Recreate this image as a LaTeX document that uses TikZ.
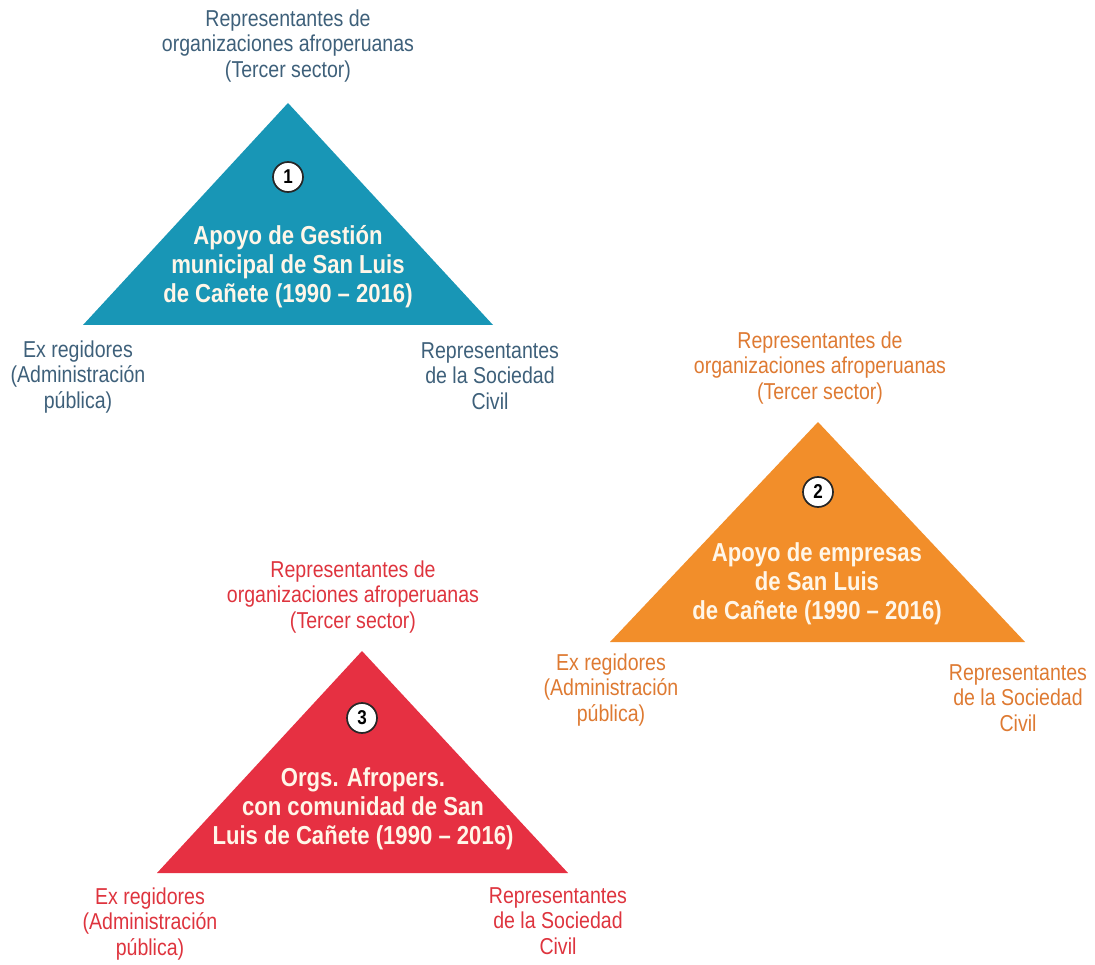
\documentclass[tikz,border=0pt]{standalone}
\usepackage{fontspec}
\usepackage{xcolor}
\usepackage{tikz}
\usetikzlibrary{positioning, calc}
\newfontfamily\narrowfont[FakeStretch=0.85]{Liberation Sans}
\definecolor{AfroBlue}{RGB}{24, 150, 182}
\definecolor{AfroBlueText}{RGB}{62, 96, 122}
\definecolor{AfroOrange}{RGB}{242, 142, 42}
\definecolor{AfroOrangeText}{RGB}{222, 122, 50}
\definecolor{AfroRed}{RGB}{230, 48, 66}
\definecolor{AfroRedText}{RGB}{222, 52, 62}
\definecolor{AfroCream}{RGB}{255, 246, 232}

\begin{document}
\begin{tikzpicture}[x=1pt, y=-1pt,
  actor/.style={align=center, inner sep=0pt,
    font=\narrowfont\fontsize{23}{25.5}\selectfont},
  inside/.style={align=center, inner sep=0pt, text=AfroCream,
    font=\narrowfont\bfseries\fontsize{26}{29}\selectfont},
  badge/.style={circle, draw=black!85, line width=1.7pt, fill=white,
    minimum size=30pt, inner sep=0pt,
    font=\narrowfont\bfseries\fontsize{20}{20}\selectfont}]
  \useasboundingbox (0,0) rectangle (1095,965);

  % triangulo 1: gestion municipal
  \coordinate (t1top) at (288,103);
  \coordinate (t1left) at (83,325);
  \coordinate (t1right) at (493,325);
  \fill[AfroBlue] (t1top) -- (t1left) -- (t1right) -- cycle;
  \node[badge] (t1num) at (288,177) {1};
  \node[inside] (t1txt) at (288,267) {Apoyo de Gestión\\municipal de San Luis\\de Cañete (1990 – 2016)};
  \node[actor, text=AfroBlueText] (t1tercer) at (288,46) {Representantes de\\organizaciones afroperuanas\\(Tercer sector)};
  \node[actor, text=AfroBlueText] (t1admin) at (78,377) {Ex regidores\\(Administración\\pública)};
  \node[actor, text=AfroBlueText] (t1civil) at (490,376) {Representantes\\de la Sociedad\\Civil};

  % triangulo 2: empresas
  \coordinate (t2top) at (818,422);
  \coordinate (t2left) at (610,642);
  \coordinate (t2right) at (1025,642);
  \fill[AfroOrange] (t2top) -- (t2left) -- (t2right) -- cycle;
  \node[badge] (t2num) at (818,492) {2};
  \node[inside] (t2txt) at (817,584) {Apoyo de empresas\\de San Luis\\de Cañete (1990 – 2016)};
  \node[actor, text=AfroOrangeText] (t2tercer) at (820,368) {Representantes de\\organizaciones afroperuanas\\(Tercer sector)};
  \node[actor, text=AfroOrangeText] (t2admin) at (611,690) {Ex regidores\\(Administración\\pública)};
  \node[actor, text=AfroOrangeText] (t2civil) at (1018,698) {Representantes\\de la Sociedad\\Civil};

  % triangulo 3: organizaciones afroperuanas
  \coordinate (t3top) at (362,651);
  \coordinate (t3left) at (157,873);
  \coordinate (t3right) at (568,873);
  \fill[AfroRed] (t3top) -- (t3left) -- (t3right) -- cycle;
  \node[badge] (t3num) at (362,718) {3};
  \node[inside] (t3txt) at (363,809) {Orgs. Afropers.\\con comunidad de San\\Luis de Cañete (1990 – 2016)};
  \node[actor, text=AfroRedText] (t3tercer) at (353,597) {Representantes de\\organizaciones afroperuanas\\(Tercer sector)};
  \node[actor, text=AfroRedText] (t3admin) at (150,924) {Ex regidores\\(Administración\\pública)};
  \node[actor, text=AfroRedText] (t3civil) at (558,921) {Representantes\\de la Sociedad\\Civil};
\end{tikzpicture}
\end{document}
